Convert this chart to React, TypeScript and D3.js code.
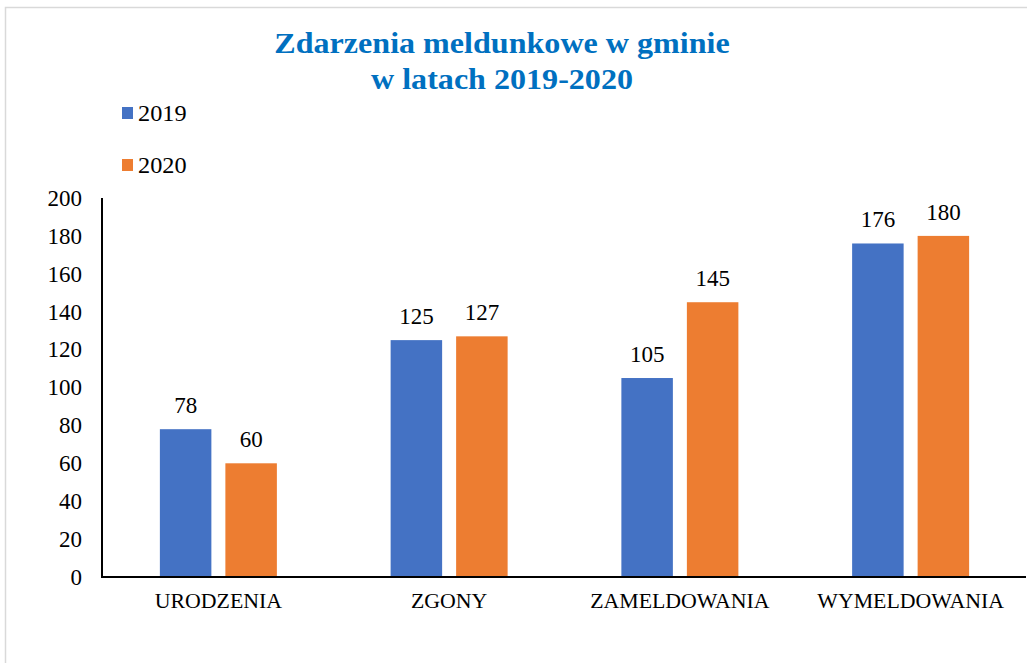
import React from "react";
import * as d3 from "d3";

const categories = ["URODZENIA", "ZGONY", "ZAMELDOWANIA", "WYMELDOWANIA"];
const seriesNames = ["2019", "2020"];
const values2019 = [78, 125, 105, 176];
const values2020 = [60, 127, 145, 180];
const yTicks = [0, 20, 40, 60, 80, 100, 120, 140, 160, 180, 200];
const titleLines = ["Zdarzenia meldunkowe w gminie", "w latach 2019-2020"];

const colors = ["#4472C4", "#ED7D31"];
const FONT = "Liberation Serif, Tinos, Times New Roman, DejaVu Serif, serif";

export default function App() {
  const W = 1027, H = 663;
  const left = 103, right = 1026, top = 198, bottom = 577;
  const x = d3.scaleBand().domain(categories).range([left, right]).paddingInner(0).paddingOuter(0);
  const y = d3.scaleLinear().domain([0, 200]).range([bottom, top]);
  const bw = x.bandwidth();
  const barW = 51.5;
  const gap = 14;
  const x1 = d3.scaleOrdinal<string, number>().domain(seriesNames).range([-(gap / 2 + barW), gap / 2]);
  const series = [values2019, values2020];
  const ts = { fontFamily: FONT } as React.CSSProperties;

  return (
    <div style={{ position: "absolute", left: 0, top: 0 }}>
      <svg width={W} height={H} style={{ display: "block", background: "#fff", fontFamily: FONT }}>
        <rect x={5.5} y={7.5} width={1040} height={700} fill="#fff" stroke="#D9D9D9" strokeWidth={1.5} />
        {titleLines.map((t, i) => (
          <text key={t} x={0} y={53 + i * 36} transform="translate(502,0) scale(1.07,1)" textAnchor="middle" style={ts} fontWeight="bold" fontSize={30} fill="#0070C0">
            {t}
          </text>
        ))}
        {seriesNames.map((s, i) => (
          <g key={s}>
            <rect x={122} y={107 + i * 52} width={11} height={12} fill={colors[i]} />
            <text x={0} y={121 + i * 52} transform="translate(138,0) scale(1.08,1)" style={ts} fontSize={22.5} fill="#000">{s}</text>
          </g>
        ))}
        {yTicks.map((t) => (
          <text key={t} x={82} y={y(t)} dy="0.34em" textAnchor="end" style={ts} fontSize={23} fill="#000">{t}</text>
        ))}
        {categories.map((c, ci) => {
          const cx = (x(c) as number) + bw / 2;
          return (
            <g key={c}>
              {series.map((vals, si) => {
                const bx = cx + x1(seriesNames[si]);
                return (
                  <g key={si}>
                    <rect x={bx} y={y(vals[ci])} width={barW} height={bottom - y(vals[ci])} fill={colors[si]} />
                    <text x={bx + barW / 2} y={y(vals[ci]) - 16} textAnchor="middle" style={ts} fontSize={23} fill="#000">{vals[ci]}</text>
                  </g>
                );
              })}
              <text x={0} y={608} transform={`translate(${cx},0) scale(1.04,1)`} textAnchor="middle" style={ts} fontSize={21} fill="#000">{c}</text>
            </g>
          );
        })}
        <line x1={102} x2={102} y1={top} y2={bottom + 1} stroke="#000" strokeWidth={2} />
        <line x1={101} x2={right} y1={bottom} y2={bottom} stroke="#000" strokeWidth={2} />
      </svg>
    </div>
  );
}
